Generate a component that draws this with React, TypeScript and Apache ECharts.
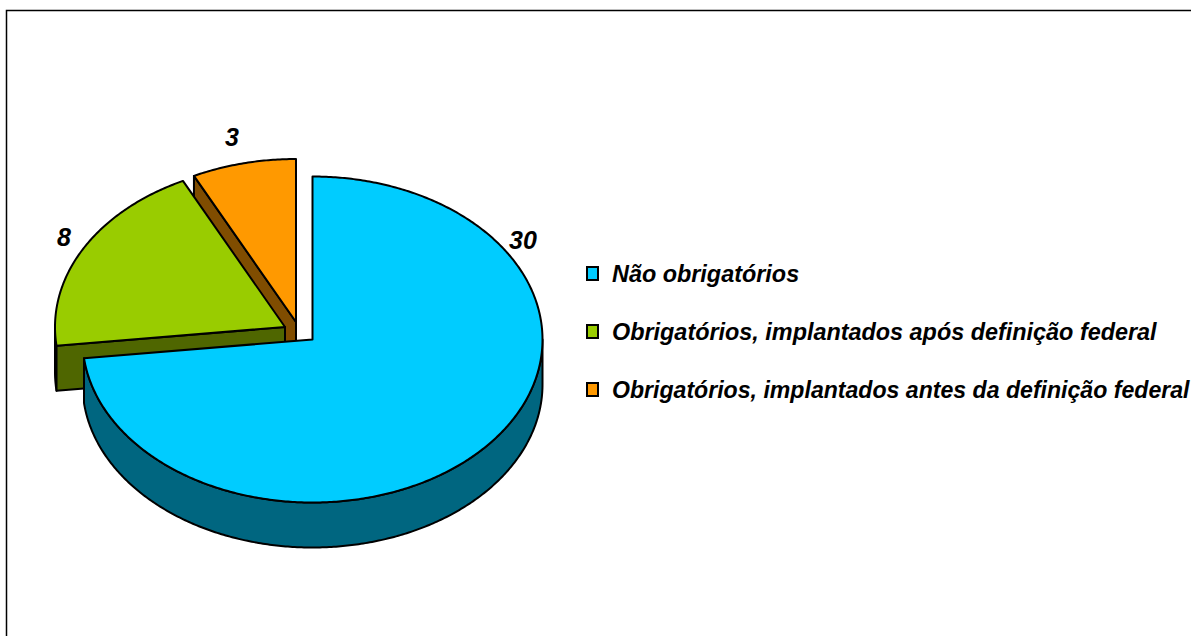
import React, { useEffect, useRef } from "react";
import * as echarts from "echarts";

const categories = [
  "Não obrigatórios",
  "Obrigatórios, implantados após definição federal",
  "Obrigatórios, implantados antes da definição federal",
];
const values = [30, 8, 3];
const topColors = ["#00CCFF", "#99CC00", "#FF9900"];
const sideColors = ["#006680", "#4F6600", "#804D00"];

const FONT = '"Liberation Sans", Arial, sans-serif';
const RX = 230;
const RY = 163;
const DEPTH = 45;
const centers = [
  [312.5, 339.5],
  [285, 327],
  [296, 322],
];
const labelPositions = [
  [523, 240],
  [64, 237],
  [232, 137],
];

const total = values.reduce((a, b) => a + b, 0);

function arcPoints(cx: number, cy: number, from: number, to: number, dy = 0) {
  const pts: number[][] = [];
  const steps = Math.max(2, Math.ceil(Math.abs(to - from) / 0.01));
  for (let i = 0; i <= steps; i++) {
    const t = from + ((to - from) * i) / steps;
    pts.push([cx + RX * Math.sin(t), cy - RY * Math.cos(t) + dy]);
  }
  return pts;
}

function renderSlice(params: any, api: any) {
  const idx = params.seriesIndex;
  const value = api.value(0);
  const before = values.slice(0, idx).reduce((a, b) => a + b, 0);
  const from = (before / total) * Math.PI * 2;
  const to = ((before + value) / total) * Math.PI * 2;
  const [cx, cy] = centers[idx];
  const stroke = { stroke: "#000", lineWidth: 2, lineJoin: "round" };
  const side = { ...stroke, fill: sideColors[idx] };
  const children: any[] = [];

  // outer rim: only the front half of the ellipse is visible
  const rimFrom = Math.max(from, Math.PI / 2);
  const rimTo = Math.min(to, (Math.PI * 3) / 2);
  if (rimTo > rimFrom) {
    children.push({
      type: "polygon",
      shape: {
        points: [
          ...arcPoints(cx, cy, rimFrom, rimTo),
          ...arcPoints(cx, cy, rimTo, rimFrom, DEPTH),
        ],
      },
      style: side,
    });
  }
  // cut face at the start of the slice, visible when it looks to the front
  if (from > Math.PI) {
    const p = [cx + RX * Math.sin(from), cy - RY * Math.cos(from)];
    children.push({
      type: "polygon",
      shape: {
        points: [
          p,
          [cx, cy],
          [cx, cy + DEPTH],
          [p[0], p[1] + DEPTH],
        ],
      },
      style: side,
    });
  }
  // top face
  children.push({
    type: "polygon",
    shape: { points: [[cx, cy], ...arcPoints(cx, cy, from, to)] },
    style: { ...stroke, fill: topColors[idx] },
  });
  // value label
  children.push({
    type: "text",
    x: labelPositions[idx][0],
    y: labelPositions[idx][1],
    style: {
      text: String(value),
      fill: "#000",
      font: `italic bold 25px ${FONT}`,
      textAlign: "center",
      textVerticalAlign: "middle",
    },
  });
  return { type: "group", children };
}

export default function App() {
  const ref = useRef<HTMLDivElement>(null);
  useEffect(() => {
    document.body.style.margin = "0";
    document.body.style.overflow = "hidden";
    const chart = echarts.init(ref.current!, null, { renderer: "svg" });
    const legendText = {
      fontFamily: FONT,
      fontStyle: "italic",
      fontWeight: "bold",
      fontSize: 23.4,
      color: "#000",
      padding: [0, 0, 0, 9],
    };
    chart.setOption({
      animation: false,
      backgroundColor: "#fff",
      graphic: [
        {
          type: "rect",
          silent: true,
          z: -1,
          shape: { x: 6.5, y: 10.5, width: 1400, height: 900 },
          style: { fill: "none", stroke: "#000", lineWidth: 1.5 },
        },
      ],
      legend: {
        orient: "vertical",
        left: 586,
        top: 262,
        padding: 0,
        itemWidth: 11,
        itemHeight: 13,
        itemGap: 35,
        icon: "rect",
        selectedMode: false,
        data: [
          { name: categories[0] },
          { name: categories[1] },
          { name: categories[2], textStyle: { ...legendText, fontSize: 23.1 } },
        ],
        textStyle: legendText,
      },
      series: categories.map((name, i) => ({
        type: "custom",
        name,
        coordinateSystem: "none",
        z: 10 - i,
        silent: true,
        clip: false,
        renderItem: renderSlice,
        itemStyle: { color: topColors[i], borderColor: "#000", borderWidth: 2 },
        data: [[values[i]]],
      })),
    });
    return () => chart.dispose();
  }, []);
  return <div ref={ref} style={{ width: 1191, height: 636 }} />;
}
